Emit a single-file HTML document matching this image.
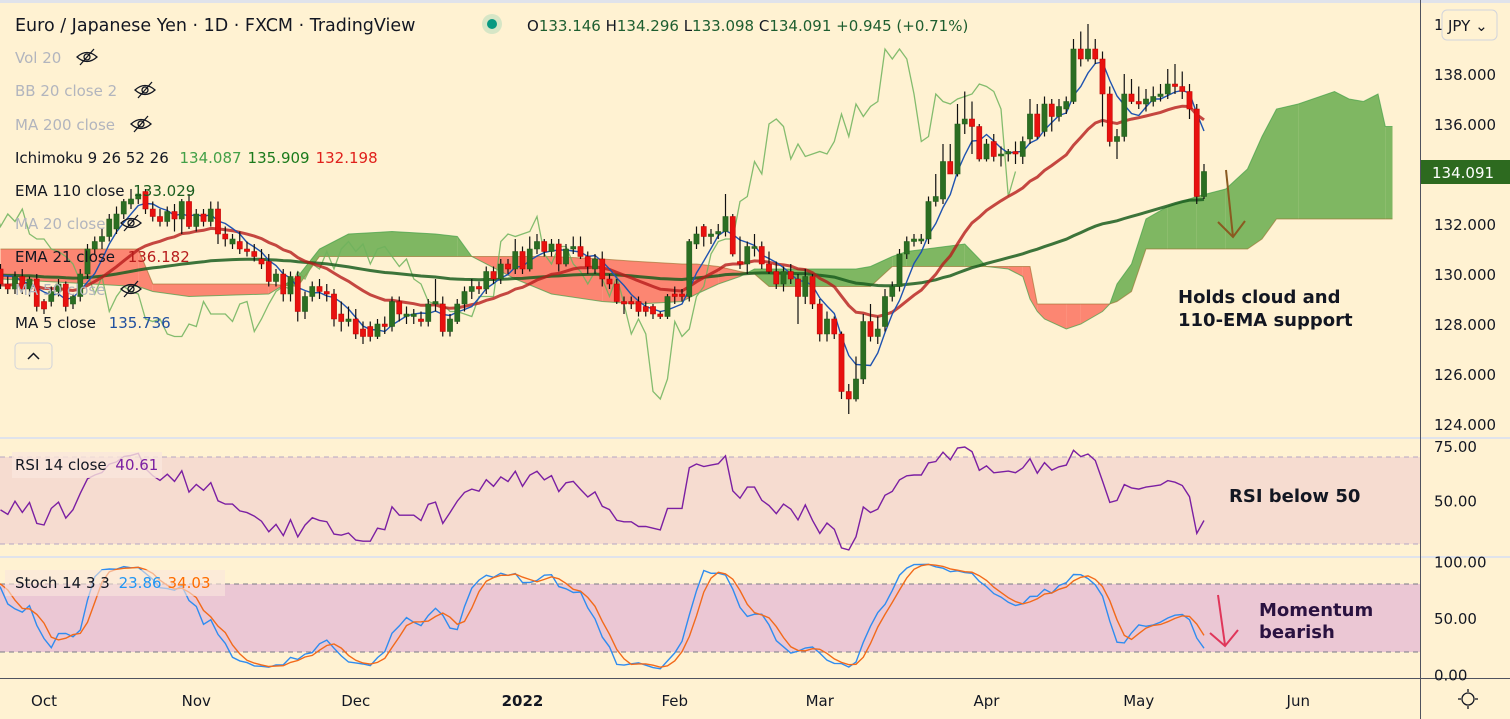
<!DOCTYPE html>
<html><head><meta charset="utf-8">
<style>
html,body{margin:0;padding:0;background:#fff2d2;}
body{width:1510px;height:719px;overflow:hidden;position:relative;font-family:"DejaVu Sans","Liberation Sans",sans-serif;}
svg{position:absolute;left:0;top:0;}
.t{font-family:"DejaVu Sans","Liberation Sans",sans-serif;}
</style></head>
<body>
<svg id="c" width="1510" height="719" viewBox="0 0 1510 719">
  <defs><clipPath id="plot"><rect x="0" y="0" width="1420" height="437"/></clipPath>
  <clipPath id="rsiclip"><rect x="0" y="438" width="1420" height="118"/></clipPath>
  <clipPath id="stclip"><rect x="0" y="557" width="1420" height="121"/></clipPath></defs>
  <rect x="0" y="0" width="1510" height="719" fill="#fff2d2"/>
  <rect x="0" y="0" width="1510" height="3" fill="#e0e3eb"/>
  <rect x="0" y="457" width="1420" height="87" fill="#f6dcd0"/>
  <line x1="0" y1="457" x2="1420" y2="457" stroke="#b4a6c4" stroke-dasharray="5,4"/>
  <line x1="0" y1="544" x2="1420" y2="544" stroke="#b4a6c4" stroke-dasharray="5,4"/>
  <rect x="0" y="584" width="1420" height="68" fill="#ebc7d4"/>
  <line x1="0" y1="584" x2="1420" y2="584" stroke="#787b86" stroke-dasharray="5,4"/>
  <line x1="0" y1="652" x2="1420" y2="652" stroke="#787b86" stroke-dasharray="5,4"/>
  <rect x="0" y="437" width="1510" height="2" fill="#e0e3eb"/>
  <rect x="0" y="556" width="1510" height="2" fill="#e0e3eb"/>
  <g id="main" clip-path="url(#plot)"></g>
  <g id="rsi" clip-path="url(#rsiclip)"></g>
  <g id="stoch" clip-path="url(#stclip)"></g>
  <line x1="1420.5" y1="0" x2="1420.5" y2="719" stroke="#50535e"/>
  <line x1="0" y1="678.5" x2="1510" y2="678.5" stroke="#50535e"/>
  <g id="axes" class="t"></g>

  <rect x="1421" y="160" width="89" height="24" fill="#2d6a1f"/>
  <text x="1432" y="178" font-size="15" fill="#fff" class="t">134.091</text>
  <rect x="1442" y="10" width="55" height="30" rx="5" fill="#fff2d2" stroke="#d1d4dc"/>
  <text x="1448" y="31" font-size="15" fill="#131722" class="t">JPY ⌄</text>
  <g stroke="#131722" fill="none" stroke-width="1.3">
    <circle cx="1468" cy="699" r="6"/>
    <line x1="1468" y1="689" x2="1468" y2="692"/><line x1="1468" y1="706" x2="1468" y2="709"/>
    <line x1="1458" y1="699" x2="1461" y2="699"/><line x1="1475" y1="699" x2="1478" y2="699"/>
  </g>

  <text x="15" y="31" font-size="17.5" fill="#131722" class="t">Euro / Japanese Yen · 1D · FXCM · TradingView</text>
  <circle cx="492" cy="24" r="10" fill="#d6e6c6"/>
  <circle cx="492" cy="24" r="5" fill="#089981"/>
  <text x="527" y="31" font-size="15" class="t"><tspan fill="#131722">O</tspan><tspan fill="#1e5e30">133.146 </tspan><tspan fill="#131722">H</tspan><tspan fill="#1e5e30">134.296 </tspan><tspan fill="#131722">L</tspan><tspan fill="#1e5e30">133.098 </tspan><tspan fill="#131722">C</tspan><tspan fill="#1e5e30">134.091  +0.945 (+0.71%)</tspan></text>

  <g class="t" font-size="15">
    <text x="15" y="63" fill="#b2b5be">Vol 20</text>
    <text x="15" y="96" fill="#b2b5be">BB 20 close 2</text>
    <text x="15" y="130" fill="#b2b5be">MA 200 close</text>
    <text x="15" y="163" fill="#131722">Ichimoku 9 26 52 26 <tspan fill="#43a047" dx="6">134.087</tspan><tspan fill="#1b7a1b" dx="6">135.909</tspan><tspan fill="#e0201b" dx="6">132.198</tspan></text>
    <text x="15" y="196" fill="#131722">EMA 110 close <tspan fill="#1b5e20" dx="4">133.029</tspan></text>
    <text x="15" y="229" fill="#b2b5be">MA 20 close</text>
    <text x="15" y="262" fill="#131722">EMA 21 close <tspan fill="#b71c1c" dx="8">136.182</tspan></text>
    <text x="15" y="295" fill="#b2b5be">MA 50 close</text>
    <text x="15" y="328" fill="#131722">MA 5 close <tspan fill="#1f4fa0" dx="8">135.736</tspan></text>
  </g>
  <g id="eyes"></g>
  <rect x="15" y="343" width="37" height="26" rx="4" fill="#fff2d2" stroke="#d1d4dc"/>
  <path d="M28 359 L33.5 353.5 L39 359" stroke="#131722" fill="none" stroke-width="1.5"/>

  <rect x="12" y="452" width="150" height="26" fill="#fae6dc" opacity="0.8"/>
  <text x="15" y="470" font-size="15" class="t" fill="#131722">RSI 14 close <tspan fill="#7b1fa2" dx="4">40.61</tspan></text>
  <rect x="5" y="570" width="220" height="26" fill="#fae6dc" opacity="0.6"/>
  <text x="15" y="588" font-size="15" class="t" fill="#131722">Stoch 14 3 3 <tspan fill="#2196f3" dx="4">23.86</tspan><tspan fill="#ff6d00" dx="6">34.03</tspan></text>

  <text x="1178" y="303" font-size="18" font-weight="bold" fill="#131722" class="t"><tspan x="1178">Holds cloud and</tspan><tspan x="1178" dy="23">110-EMA support</tspan></text>
  <text x="1229" y="502" font-size="18" font-weight="bold" fill="#131722" class="t">RSI below 50</text>
  <text x="1259" y="616" font-size="18" font-weight="bold" fill="#2a1240" class="t"><tspan x="1259">Momentum</tspan><tspan x="1259" dy="22">bearish</tspan></text>
  <g stroke="#8a5a20" stroke-width="2" fill="none">
    <line x1="1226" y1="170" x2="1233" y2="237"/><path d="M1218 222 L1233 237 L1245 221"/>
  </g>
  <g stroke="#e0365a" stroke-width="2" fill="none">
    <line x1="1218" y1="595" x2="1225" y2="645"/><path d="M1210 633 L1225 646 L1238 630"/>
  </g>
</svg>
<script>
const startIndex = -20;
const bars = [
[130.2,130.4,129.8,130.0],[130.0,130.2,129.6,129.8],[129.8,130.0,129.3,129.5],[129.5,129.9,129.3,129.7],
[129.7,129.8,129.0,129.2],[129.2,129.4,128.7,128.9],[128.9,129.1,128.5,128.7],[128.7,128.9,128.3,128.5],
[128.5,129.0,128.4,128.8],[128.8,129.5,128.7,129.3],[129.3,129.8,129.1,129.6],[129.6,130.2,129.5,130.0],
[130.0,130.6,129.9,130.4],[130.4,130.6,130.0,130.2],
[130.2,130.4,129.4,129.6],[129.6,129.9,129.2,129.4],[129.4,130.1,129.2,129.9],[129.9,130.2,129.2,129.4],
[129.4,129.9,129.1,129.8],[129.8,130.0,128.5,128.7],
[128.9,129.0,128.4,128.6],[128.9,129.5,128.7,129.3],[129.3,129.8,129.1,129.6],[129.6,129.7,128.5,128.7],
[128.8,129.2,128.6,129.1],[129.1,130.2,128.9,130.0],[130.0,131.2,129.8,131.0],[131.0,131.5,130.8,131.3],
[131.3,131.8,131.0,131.5],[131.5,132.4,131.3,132.2],[131.8,132.7,131.6,132.4],[132.4,133.0,132.2,132.9],
[132.8,133.4,132.6,133.0],[133.0,133.5,132.8,133.2],[133.3,133.4,132.4,132.6],[132.6,132.9,132.1,132.3],
[132.3,132.6,131.9,132.1],[132.1,132.7,131.9,132.5],[132.5,132.8,131.7,132.2],[132.2,133.0,131.6,132.9],
[132.9,133.2,131.8,131.9],[131.9,132.6,131.7,132.4],[132.4,132.6,131.9,132.1],[132.1,132.9,131.9,132.6],
[132.6,132.9,131.2,131.6],[131.6,131.9,131.1,131.4],[131.2,131.6,131.0,131.4],[131.3,131.7,130.8,131.0],
[131.0,131.3,130.7,130.9],[130.9,131.2,130.5,130.7],[130.6,131.0,130.2,130.4],[130.5,130.8,129.5,129.7],
[129.7,130.2,129.5,130.0],[130.0,130.2,128.9,129.2],[129.2,130.1,128.9,129.9],[129.9,130.1,128.1,128.5],
[128.5,129.3,128.2,129.1],[129.1,129.7,128.9,129.5],[129.5,129.8,129.0,129.3],[129.3,129.6,128.9,129.2],
[129.2,129.4,127.9,128.2],[128.4,128.9,127.7,128.1],[128.1,128.7,127.9,128.2],[128.2,128.6,127.4,127.6],
[127.8,128.1,127.2,127.5],[127.9,128.1,127.3,127.5],[127.5,128.2,127.4,128.0],[128.0,128.3,127.6,127.9],
[127.9,129.1,127.7,128.9],[128.9,129.1,128.1,128.4],[128.3,128.7,128.0,128.4],[128.3,128.6,128.0,128.4],
[128.2,128.5,127.9,128.1],[128.1,129.0,127.9,128.8],[128.8,129.8,128.5,128.9],[128.8,129.1,127.5,127.7],
[127.7,128.4,127.5,128.2],[128.1,129.0,128.0,128.8],[128.8,129.5,128.5,129.3],[129.3,129.8,129.0,129.5],
[129.5,129.7,129.2,129.4],[129.4,130.3,129.2,130.1],[130.1,130.3,129.6,129.8],[129.8,130.6,129.6,130.4],
[130.4,130.6,130.0,130.2],[130.2,131.4,130.0,130.9],[130.9,131.1,130.0,130.2],[130.2,131.5,130.1,131.0],
[131.0,131.6,130.8,131.3],[131.3,131.4,130.7,130.9],[130.9,131.4,130.7,131.2],[131.2,131.4,130.1,130.4],
[130.4,131.2,130.3,131.0],[131.0,131.5,130.8,131.1],[131.1,131.5,130.6,130.7],[130.7,130.9,130.0,130.3],
[130.2,130.8,130.0,130.6],[130.6,130.9,129.5,129.8],[129.8,130.0,129.4,129.6],[129.6,129.8,128.8,128.9],
[128.9,129.1,128.4,128.8],[128.9,129.1,128.6,128.8],[128.9,129.1,128.3,128.5],[128.7,128.9,128.3,128.5],
[128.7,128.8,128.2,128.4],[128.4,128.5,128.2,128.3],[128.3,129.2,128.2,129.1],[129.2,129.5,128.8,129.1],
[129.2,129.4,128.9,129.1],[129.1,131.4,128.9,131.3],[131.2,131.9,131.0,131.6],[131.9,132.0,131.1,131.5],
[131.5,131.8,131.2,131.6],[131.6,132.0,131.4,131.7],[131.7,133.2,131.5,132.3],[132.3,132.4,130.7,130.8],
[130.5,131.5,130.2,130.4],[130.4,131.3,130.0,131.1],[131.1,131.6,130.7,131.1],[131.1,131.3,130.2,130.4],
[130.4,130.9,130.0,130.1],[130.1,130.5,129.4,129.6],[129.6,130.3,129.3,130.1],[130.1,130.4,129.6,129.8],
[129.8,130.0,128.0,129.1],[129.1,130.2,128.8,129.9],[129.9,130.0,128.6,128.8],[128.8,129.0,127.3,127.6],
[127.6,128.5,127.3,128.2],[128.2,128.3,127.4,127.6],[127.6,127.7,125.0,125.3],[125.3,125.6,124.4,125.0],
[125.0,126.7,124.9,125.8],[125.8,128.4,125.6,128.1],[128.1,128.8,127.3,127.5],[127.5,128.3,127.2,127.8],
[127.9,129.4,127.7,129.1],[129.1,129.7,128.9,129.5],[129.5,131.0,129.3,130.8],[130.8,131.5,130.6,131.3],
[131.3,131.6,131.1,131.4],[131.4,131.6,131.2,131.4],[131.4,133.1,131.2,132.9],[132.9,134.0,132.7,133.1],
[133.0,135.2,132.8,134.5],[134.5,135.2,134.0,134.0],[134.0,136.8,133.9,136.0],[136.0,137.3,135.6,136.2],
[136.2,136.9,134.8,135.9],[135.9,136.0,134.5,134.6],[134.6,135.4,134.5,135.2],[135.3,135.6,134.5,134.7],
[134.8,135.1,134.3,134.8],[134.8,135.0,134.5,134.9],[134.9,135.3,134.4,134.8],[134.7,135.5,134.4,135.3],
[135.4,137.0,135.2,136.4],[136.4,136.8,135.4,135.5],[135.7,137.1,135.5,136.8],[136.8,137.0,135.7,136.3],
[136.3,137.0,136.1,136.7],[136.6,137.1,136.4,136.9],[136.9,139.4,136.8,139.0],[139.0,139.7,138.3,138.6],
[138.6,140.0,138.5,139.0],[139.0,139.4,138.4,138.6],[138.6,138.9,135.9,137.2],[137.2,137.5,135.1,135.3],
[135.3,135.8,134.6,135.5],[135.5,138.0,135.3,137.2],[137.2,137.8,136.8,136.9],[136.9,137.5,136.6,136.8],
[136.8,137.4,136.5,137.0],[136.9,137.5,136.7,137.1],[137.1,137.6,136.9,137.2],[137.2,138.2,137.0,137.6],
[137.6,138.4,137.2,137.5],[137.5,138.1,137.0,137.3],[137.3,137.6,136.2,136.6],[136.6,136.8,132.8,133.1],
[133.1,134.4,133.0,134.1]
];
const cloudIdx = [-6,13,15,20,31,35,38,42,48,54,57,59,65,70,77,82,88,90,93,96,98,100,112,114,117,119,127,130,133,135,136,137,138,141,143,146,147,148,150,152,155,159,163,166,168,170,173,178,180,182,184,185,186];
const spanA = [129.8,129.5,129.3,129.1,129.2,129.9,131.0,131.6,131.7,131.6,131.5,130.7,129.8,129.2,128.9,128.8,128.9,129.2,129.6,129.9,130.2,130.2,130.2,130.3,130.7,130.9,131.2,130.3,130.2,129.9,129.0,128.5,128.2,127.8,128.0,128.5,128.8,129.6,130.4,132.2,132.7,133.1,133.4,134.2,135.5,136.6,136.8,137.3,137.0,136.9,137.2,135.9,135.9];
const spanB = [131.0,131.0,129.6,129.6,129.6,129.5,130.7,130.7,130.7,130.7,130.7,130.7,130.7,130.7,130.6,130.5,130.4,130.4,130.3,130.1,130.0,129.5,129.5,129.5,130.3,130.3,130.3,130.3,130.3,130.3,130.3,128.8,128.8,128.8,128.8,128.8,128.8,128.9,129.3,131.0,131.0,131.0,131.0,131.0,131.4,132.2,132.2,132.2,132.2,132.2,132.2,132.2,132.2];
const ema21Seed = 129.6, ema110Seed = 130.1;
const priceTicks = ["140.000","138.000","136.000","132.000","130.000","128.000","126.000","124.000"];
const priceTickVals = [140,138,136,132,130,128,126,124];
const rsiTicks = ["75.00","50.00"]; const rsiTickVals=[75,50];
const stTicks = ["100.00","50.00","0.00"]; const stTickVals=[100,50,0];
const monthLabels = ["Oct","Nov","Dec","2022","Feb","Mar","Apr","May","Jun"];
const monthIdx = [0,21,43,66,87,107,130,151,173];

const xOf = i => 44 + i*7.25;
const yP = p => 74 + (138-p)*25;
const yR = v => 446.1 + (75-v)*2.175;
const yS = v => 561.3 + (100-v)*1.133;
const NS = "http://www.w3.org/2000/svg";
function mk(tag, attrs, parent){const e=document.createElementNS(NS,tag);for(const k in attrs)e.setAttribute(k,attrs[k]);parent.appendChild(e);return e;}
const main=document.getElementById('main'), rsiG=document.getElementById('rsi'), stG=document.getElementById('stoch'), axes=document.getElementById('axes');
const closes = bars.map(b=>b[3]);
const idx = k => k + startIndex;
function pathFrom(pts){return pts.map((p,k)=>(k?'L':'M')+p[0].toFixed(1)+' '+p[1].toFixed(1)).join(' ');}

for(let k=0;k<cloudIdx.length-1;k++){
  const x1=xOf(cloudIdx[k]), x2=xOf(cloudIdx[k+1]);
  const a1=spanA[k],a2=spanA[k+1],b1=spanB[k],b2=spanB[k+1];
  const d1=a1-b1,d2=a2-b2;
  const segs=[];
  if(d1*d2<0){const t=d1/(d1-d2);const xm=x1+(x2-x1)*t, pm=a1+(a2-a1)*t;
    segs.push([x1,a1,b1,xm,pm,pm,d1]);segs.push([xm,pm,pm,x2,a2,b2,d2]);}
  else segs.push([x1,a1,b1,x2,a2,b2,d1+d2]);
  segs.forEach(s=>{
    const poly=mk('polygon',{points:`${s[0]},${yP(s[1])} ${s[3]},${yP(s[4])} ${s[3]},${yP(s[5])} ${s[0]},${yP(s[2])}`,fill:s[6]>=0?'#69ad4f':'#fb6a5a','fill-opacity':s[6]>=0?'0.85':'0.8'},main);
    
    
  });
}
const aLine=mk('path',{d:pathFrom(cloudIdx.map((i,k)=>[xOf(i),yP(spanA[k])])),stroke:'#43a047',fill:'none','stroke-width':1,opacity:0.7},main);


const bLine=mk('path',{d:pathFrom(cloudIdx.map((i,k)=>[xOf(i),yP(spanB[k])])),stroke:'#9a6a2a',fill:'none','stroke-width':1,opacity:0.6},main);



const lag=mk('path',{d:pathFrom(closes.map((c,k)=>[xOf(idx(k)-26),yP(c)])),stroke:'#6fb35d',fill:'none','stroke-width':1.3,opacity:0.85},main);



function ema(seed,n){const a=2/(n+1);let e=seed;return closes.map(c=>(e=e+a*(c-e)));}
const e110=ema(ema110Seed,110), e21=ema(ema21Seed,21);
const vis = k => idx(k)>=-7;
const l110=mk('path',{d:pathFrom(e110.map((v,k)=>[xOf(idx(k)),yP(v)]).filter((p,k)=>vis(k))),stroke:'#1b5e20',fill:'none','stroke-width':3,opacity:0.85},main);


const l21=mk('path',{d:pathFrom(e21.map((v,k)=>[xOf(idx(k)),yP(v)]).filter((p,k)=>vis(k))),stroke:'#b71c1c',fill:'none','stroke-width':3,opacity:0.8},main);


const ma5=[];for(let k=4;k<closes.length;k++){let s=0;for(let j=0;j<5;j++)s+=closes[k-j];ma5.push([xOf(idx(k)),yP(s/5)]);}
const l5=mk('path',{d:pathFrom(ma5),stroke:'#1f53b0',fill:'none','stroke-width':1.4},main);



bars.forEach((b,k)=>{
  const x=xOf(idx(k)); const up=b[3]>=b[0];
  const w=mk('line',{x1:x,x2:x,y1:yP(b[1]),y2:yP(b[2]),stroke:'#111','stroke-width':1.2},main);
  
  
  const top=yP(Math.max(b[0],b[3])), h=Math.max(2,Math.abs(yP(b[0])-yP(b[3])));
  const r=mk('rect',{x:x-2.6,y:top,width:5.2,height:h,fill:up?'#2b6e22':'#e8110f',stroke:up?'#1f5a19':'#b00',"stroke-width":0.5},main);
  
  
});

const rsi=[];{let ag=0,al=0;for(let k=1;k<closes.length;k++){const d=closes[k]-closes[k-1];const g=Math.max(d,0),l=Math.max(-d,0);
  if(k<=14){ag+=g/14;al+=l/14;}else{ag=(ag*13+g)/14;al=(al*13+l)/14;}
  if(k>=14){rsi.push([xOf(idx(k)),yR(al===0?100:100-100/(1+ag/al))]);}}}
const rl=mk('path',{d:pathFrom(rsi),stroke:'#7b1fa2',fill:'none','stroke-width':1.4},rsiG);



const raw=[];for(let k=0;k<bars.length;k++){const s=Math.max(0,k-13);let hh=-1e9,ll=1e9;for(let j=s;j<=k;j++){hh=Math.max(hh,bars[j][1]);ll=Math.min(ll,bars[j][2]);}raw.push(hh>ll?(closes[k]-ll)/(hh-ll)*100:50);}
const sma3=a=>a.map((v,k)=>k<2?v:(a[k]+a[k-1]+a[k-2])/3);
const K=sma3(raw), D=sma3(K);
const kl=mk('path',{d:pathFrom(K.map((v,k)=>[xOf(idx(k)),yS(v)])),stroke:'#2f8cf0',fill:'none','stroke-width':1.4},stG);


const dl=mk('path',{d:pathFrom(D.map((v,k)=>[xOf(idx(k)),yS(v)])),stroke:'#f26a1b',fill:'none','stroke-width':1.4},stG);



priceTicks.forEach((t,k)=>{const e=mk('text',{x:1434,y:yP(priceTickVals[k])+6,'font-size':15,fill:'#131722'},axes);e.textContent=t;
  
  });
rsiTicks.forEach((t,k)=>{const e=mk('text',{x:1434,y:yR(rsiTickVals[k])+6,'font-size':15,fill:'#131722'},axes);e.textContent=t;
  
  });
stTicks.forEach((t,k)=>{const e=mk('text',{x:1434,y:yS(stTickVals[k])+6,'font-size':15,fill:'#131722'},axes);e.textContent=t;
  
  });
monthLabels.forEach((t,k)=>{const e=mk('text',{x:xOf(monthIdx[k]),y:706,'font-size':15,fill:'#131722','text-anchor':'middle','font-weight':t==='2022'?'bold':'normal'},axes);e.textContent=t;
  
  });

const eyes=document.getElementById('eyes');
[[87,57],[145,90],[141,124],[131,223],[131,289]].forEach(p=>{
  const g=mk('g',{transform:`translate(${p[0]},${p[1]})`,stroke:'#131722',fill:'none','stroke-width':1.3},eyes);
  
  
  mk('path',{d:'M-10 0 Q0 -9 10 0 Q0 9 -10 0 Z'},g);mk('circle',{cx:0,cy:0,r:3},g);mk('line',{x1:-7,y1:8,x2:7,y2:-8},g);
});
</script>
</body></html>
